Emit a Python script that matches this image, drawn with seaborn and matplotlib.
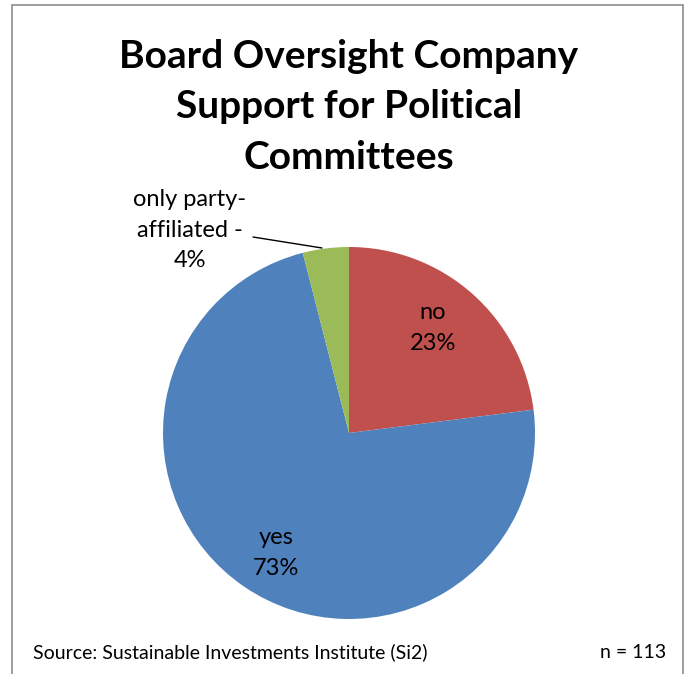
import matplotlib
matplotlib.use("Agg")
import matplotlib.pyplot as plt
from matplotlib.patches import Rectangle
import seaborn as sns

# Survey responses (share of companies, %)
categories = ["no", "yes", "only party-\naffiliated -"]
shares = [23, 73, 4]
colors = ["#C0504D", "#4F81BD", "#9BBB59"]

title = "Board Oversight Company\nSupport for Political\nCommittees"
source = "Source: Sustainable Investments Institute (Si2)"
sample = "n = 113"

sns.set_theme(style="white")
plt.rcParams["font.family"] = ["Lato", "DejaVu Sans"]

W, H = 691, 674
fig = plt.figure(figsize=(W / 100, H / 100), dpi=100)
fig.patch.set_facecolor("white")

# chart frame (open at the bottom edge of the image)
fig.patches.append(Rectangle((12 / W, -0.05), (683 - 12) / W, 1 - 5 / H + 0.05,
                             transform=fig.transFigure, fill=False,
                             edgecolor="#8C8C8C", linewidth=1.2))

# pie axes: centre (349, 433), radius 186 px
cx, cy, r = 349, 433, 186
ax = fig.add_axes([(cx - r) / W, 1 - (cy + r) / H, 2 * r / W, 2 * r / H])
wedges, _ = ax.pie(shares, colors=colors, startangle=90, counterclock=False,
                   wedgeprops=dict(linewidth=0))
ax.set_aspect("equal")
ax.set_xlim(-1, 1)
ax.set_ylim(-1, 1)
ax.axis("off")

def to_data(px, py):
    return ((px - cx) / r, (cy - py) / r)

lab_kw = dict(ha="center", va="center", fontsize=17, color="black", linespacing=1.55)
ax.text(*to_data(433, 328), f"{categories[0]}\n{shares[0]}%", **lab_kw)
ax.text(*to_data(276, 553), f"{categories[1]}\n{shares[1]}%", **lab_kw)
ax.text(*to_data(190, 230), f"only party-\naffiliated -\n{shares[2]}%", clip_on=False, **lab_kw)
# leader line to the small slice
x0, y0 = to_data(253, 237)
x1, y1 = to_data(322, 248)
ax.plot([x0, x1], [y0, y1], color="black", lw=1.0, clip_on=False)

fig.text(349 / W, 1 - 107 / H, title, ha="center", va="center",
         fontsize=28, fontweight="bold", linespacing=1.52, color="black")
fig.text(33 / W, 1 - 652 / H, source, ha="left", va="center", fontsize=14, color="black")
fig.text(666 / W, 1 - 652 / H, sample, ha="right", va="center", fontsize=14, color="black")

fig.savefig("out.png", dpi=100, facecolor="white")
